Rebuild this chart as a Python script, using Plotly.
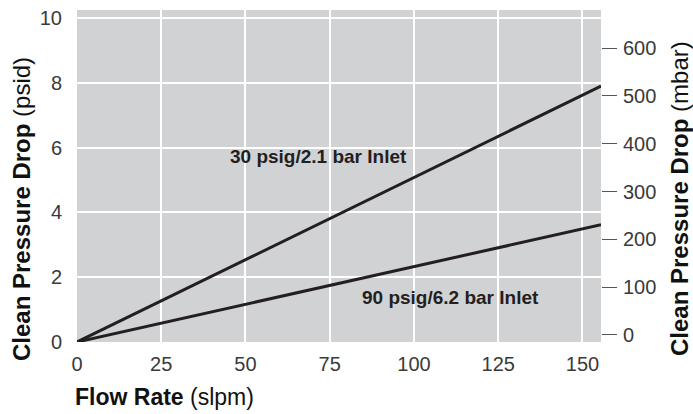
import plotly.graph_objects as go

flow = [0, 155.5]
psi_30 = [0, 7.9]
psi_90 = [0, 3.62]
x_ticks = [0, 25, 50, 75, 100, 125, 150]
y_ticks = [0, 2, 4, 6, 8, 10]
mbar_ticks = [0, 100, 200, 300, 400, 500, 600]

line_color = "#231f20"
font_family = "Liberation Sans"

W, H = 693, 414
L, T = 77, 10
R = W - 601
B = H - 342

fig = go.Figure()
fig.add_trace(go.Scatter(x=flow, y=psi_30, mode="lines",
                         line=dict(color=line_color, width=3), showlegend=False))
fig.add_trace(go.Scatter(x=flow, y=psi_90, mode="lines",
                         line=dict(color=line_color, width=3), showlegend=False))
fig.add_trace(go.Scatter(x=[0], y=[0], yaxis="y2", mode="markers",
                         marker=dict(opacity=0), showlegend=False, hoverinfo="skip"))

pw = W - L - R
ph = H - T - B
def px(xp):  # pixel -> paper
    return (xp - L) / pw
def py(yp):
    return (H - B - yp) / ph

tickfont = dict(family=font_family, size=20, color="#3a3a3a")

def ann(text, x, y, size, color, angle=0):
    return dict(text=text, x=px(x), y=py(y), xref="paper", yref="paper",
                showarrow=False, xanchor="center", yanchor="middle",
                textangle=angle,
                font=dict(family=font_family, size=size, color=color))

fig.update_layout(
    width=W, height=H,
    margin=dict(l=L, r=R, t=T, b=B, autoexpand=False),
    paper_bgcolor="white",
    plot_bgcolor="#d1d2d4",
    font=dict(family=font_family, size=18, color="#222222"),
    xaxis=dict(range=[0, 155.5], tickvals=x_ticks, showgrid=True,
               gridcolor="white", gridwidth=1.5, zeroline=False,
               ticks="outside", ticklen=4, tickcolor="rgba(0,0,0,0)",
               showline=False, automargin=False, tickfont=tickfont,
               ticklabeloverflow="allow"),
    yaxis=dict(range=[0, 10.25], tickvals=y_ticks, showgrid=True,
               gridcolor="white", gridwidth=1.5, zeroline=False,
               ticks="outside", ticklen=10, tickcolor="rgba(0,0,0,0)",
               showline=False, automargin=False, tickfont=tickfont,
               ticklabeloverflow="allow"),
    yaxis2=dict(range=[-15, 680], tickvals=mbar_ticks, overlaying="y",
                side="right", showgrid=False, zeroline=False,
                ticks="outside", ticklen=15, tickwidth=1.2, tickcolor="#555555",
                ticklabelstandoff=2, ticklabeloverflow="allow",
                showline=False, automargin=False, tickfont=tickfont),
    annotations=[
        ann("<b>30 psig/2.1 bar Inlet</b>", 318, 156, 19, line_color),
        ann("<b>90 psig/6.2 bar Inlet</b>", 450, 297, 19, line_color),
        ann("<b>Flow Rate</b> (slpm)", 164, 397, 23, "#111111"),
        ann("<b>Clean Pressure Drop</b> (psid)", 21, 209, 24, "#111111", -90),
        ann("<b>Clean Pressure Drop</b> (mbar)", 679, 199, 24, "#111111", -90),
    ],
)

fig.write_html(
    "out.html",
    config={"displayModeBar": False},
    post_script="document.body.style.margin='0';document.body.style.overflow='hidden';",
)
